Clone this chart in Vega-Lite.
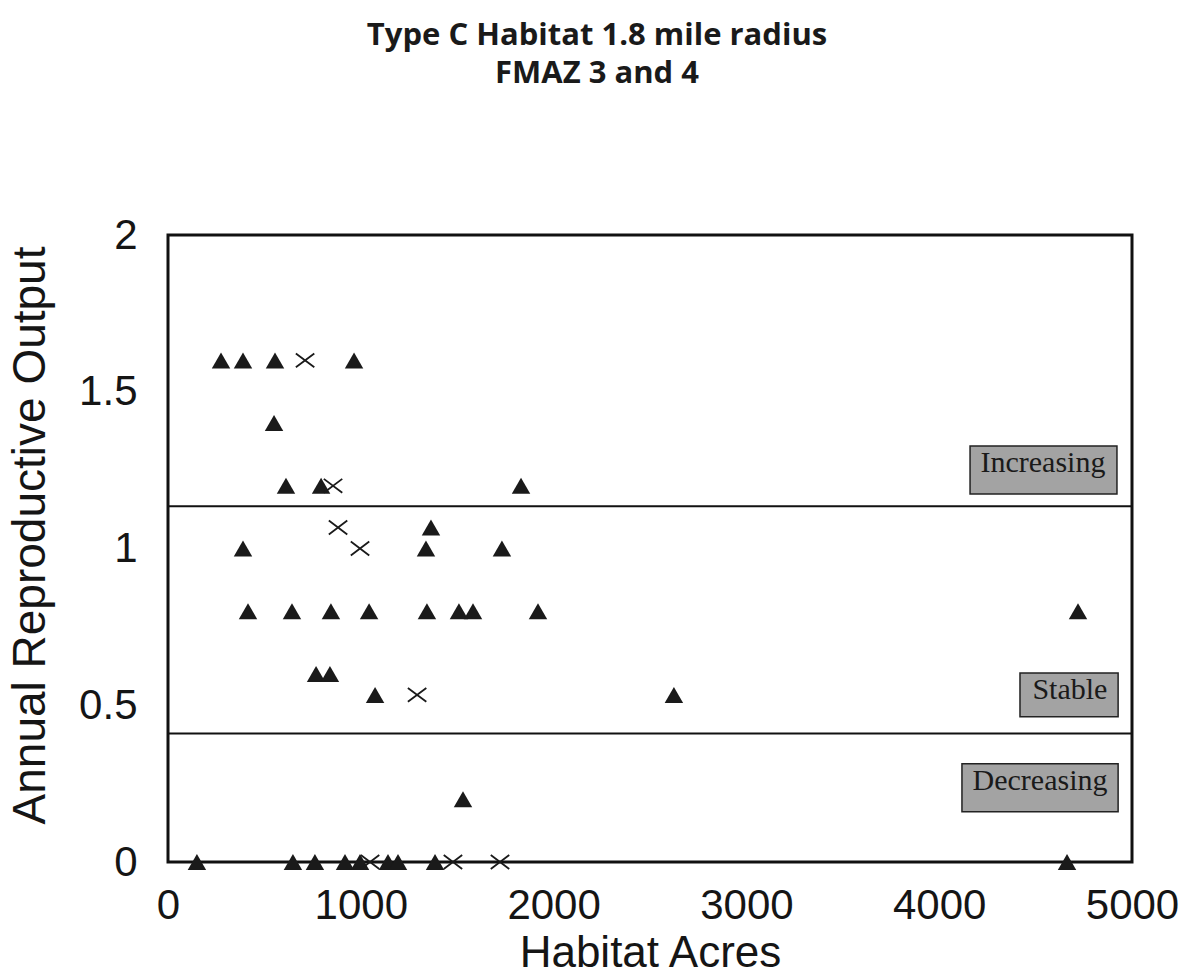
{
  "$schema": "https://vega.github.io/schema/vega-lite/v6.json",
  "width": 964,
  "height": 627,
  "autosize": "none",
  "padding": {"left": 168, "top": 235, "right": 49, "bottom": 113},
  "background": "white",
  "title": {
    "text": ["Type C Habitat 1.8 mile radius", "FMAZ 3 and 4"],
    "font": "Open Sans",
    "fontWeight": "bold",
    "fontSize": 31,
    "lineHeight": 38,
    "anchor": "middle",
    "dx": -53,
    "offset": 124,
    "color": "#1a1a1a"
  },
  "config": {
    "view": {"stroke": "#111", "strokeWidth": 3},
    "axis": {
      "grid": false,
      "ticks": false,
      "domain": false,
      "labelFont": "Liberation Sans",
      "labelFontSize": 42,
      "labelColor": "#151515",
      "titleFont": "Liberation Sans",
      "titleFontSize": 44,
      "titleFontWeight": "normal",
      "titleColor": "#151515"
    }
  },
  "datasets": {
    "points": [
      {"acres": 275, "aro": 1.6, "type": "triangle"},
      {"acres": 389, "aro": 1.6, "type": "triangle"},
      {"acres": 555, "aro": 1.6, "type": "triangle"},
      {"acres": 711, "aro": 1.6, "type": "x"},
      {"acres": 965, "aro": 1.6, "type": "triangle"},
      {"acres": 550, "aro": 1.4, "type": "triangle"},
      {"acres": 612, "aro": 1.2, "type": "triangle"},
      {"acres": 794, "aro": 1.2, "type": "triangle"},
      {"acres": 856, "aro": 1.2, "type": "x"},
      {"acres": 1831, "aro": 1.2, "type": "triangle"},
      {"acres": 882, "aro": 1.067, "type": "x"},
      {"acres": 1364, "aro": 1.067, "type": "triangle"},
      {"acres": 389, "aro": 1.0, "type": "triangle"},
      {"acres": 996, "aro": 1.0, "type": "x"},
      {"acres": 1338, "aro": 1.0, "type": "triangle"},
      {"acres": 1732, "aro": 1.0, "type": "triangle"},
      {"acres": 415, "aro": 0.8, "type": "triangle"},
      {"acres": 643, "aro": 0.8, "type": "triangle"},
      {"acres": 845, "aro": 0.8, "type": "triangle"},
      {"acres": 1043, "aro": 0.8, "type": "triangle"},
      {"acres": 1343, "aro": 0.8, "type": "triangle"},
      {"acres": 1509, "aro": 0.8, "type": "triangle"},
      {"acres": 1582, "aro": 0.8, "type": "triangle"},
      {"acres": 1919, "aro": 0.8, "type": "triangle"},
      {"acres": 4720, "aro": 0.8, "type": "triangle"},
      {"acres": 768, "aro": 0.6, "type": "triangle"},
      {"acres": 840, "aro": 0.6, "type": "triangle"},
      {"acres": 1074, "aro": 0.533, "type": "triangle"},
      {"acres": 1292, "aro": 0.533, "type": "x"},
      {"acres": 2624, "aro": 0.533, "type": "triangle"},
      {"acres": 1530, "aro": 0.2, "type": "triangle"},
      {"acres": 150, "aro": 0, "type": "triangle"},
      {"acres": 648, "aro": 0, "type": "triangle"},
      {"acres": 762, "aro": 0, "type": "triangle"},
      {"acres": 918, "aro": 0, "type": "triangle"},
      {"acres": 996, "aro": 0, "type": "triangle"},
      {"acres": 1048, "aro": 0, "type": "x"},
      {"acres": 1141, "aro": 0, "type": "triangle"},
      {"acres": 1193, "aro": 0, "type": "triangle"},
      {"acres": 1385, "aro": 0, "type": "triangle"},
      {"acres": 1478, "aro": 0, "type": "x"},
      {"acres": 1722, "aro": 0, "type": "x"},
      {"acres": 4663, "aro": 0, "type": "triangle"}
    ],
    "thresholds": [
      {"aro": 1.135},
      {"aro": 0.41}
    ],
    "zones": [
      {"label": "Increasing", "x1": 4160, "x2": 4922, "y1": 1.327, "y2": 1.174, "tx": 4538, "ty": 1.272},
      {"label": "Stable", "x1": 4419, "x2": 4928, "y1": 0.603, "y2": 0.463, "tx": 4678, "ty": 0.548},
      {"label": "Decreasing", "x1": 4118, "x2": 4928, "y1": 0.313, "y2": 0.16, "tx": 4523, "ty": 0.258}
    ]
  },
  "encoding": {
    "x": {
      "field": "acres",
      "type": "quantitative",
      "scale": {"domain": [0, 5000], "nice": false},
      "axis": {
        "title": "Habitat Acres",
        "values": [0, 1000, 2000, 3000, 4000, 5000],
        "format": "d",
        "labelFlush": false,
        "labelPadding": 23,
        "titleY": 104,
        "titleBaseline": "alphabetic"
      }
    },
    "y": {
      "field": "aro",
      "type": "quantitative",
      "scale": {"domain": [0, 2], "nice": false},
      "axis": {
        "title": "Annual Reproductive Output",
        "values": [0, 0.5, 1, 1.5, 2],
        "format": "~g",
        "labelFlush": false,
        "labelPadding": 31,
        "titleX": -114,
        "titleY": 300,
        "titleAngle": 270,
        "titleBaseline": "bottom",
        "titleFontSize": 46
      }
    }
  },
  "layer": [
    {
      "data": {"name": "thresholds"},
      "mark": {"type": "rule", "color": "#111", "strokeWidth": 2},
      "encoding": {"x": null, "y": {"field": "aro", "type": "quantitative"}}
    },
    {
      "data": {"name": "zones"},
      "mark": {"type": "rect", "fill": "#a3a3a3", "stroke": "#222", "strokeWidth": 1.5},
      "encoding": {
        "x": {"field": "x1", "type": "quantitative"},
        "x2": {"field": "x2"},
        "y": {"field": "y1", "type": "quantitative"},
        "y2": {"field": "y2"}
      }
    },
    {
      "data": {"name": "zones"},
      "mark": {"type": "text", "font": "Liberation Serif", "fontSize": 30, "color": "#1a1a1a", "align": "center", "baseline": "middle"},
      "encoding": {
        "x": {"field": "tx", "type": "quantitative"},
        "y": {"field": "ty", "type": "quantitative"},
        "text": {"field": "label"}
      }
    },
    {
      "data": {"name": "points"},
      "transform": [{"filter": "datum.type === 'triangle'"}],
      "mark": {"type": "point", "shape": "triangle-up", "filled": true, "size": 340, "color": "#1a1a1a", "opacity": 1}
    },
    {
      "data": {"name": "points"},
      "transform": [{"filter": "datum.type === 'x'"}],
      "mark": {"type": "point", "shape": "M-1,-0.75L1,0.75M-1,0.75L1,-0.75", "filled": false, "size": 340, "color": "#1a1a1a", "strokeWidth": 1.8, "opacity": 1}
    }
  ]
}
